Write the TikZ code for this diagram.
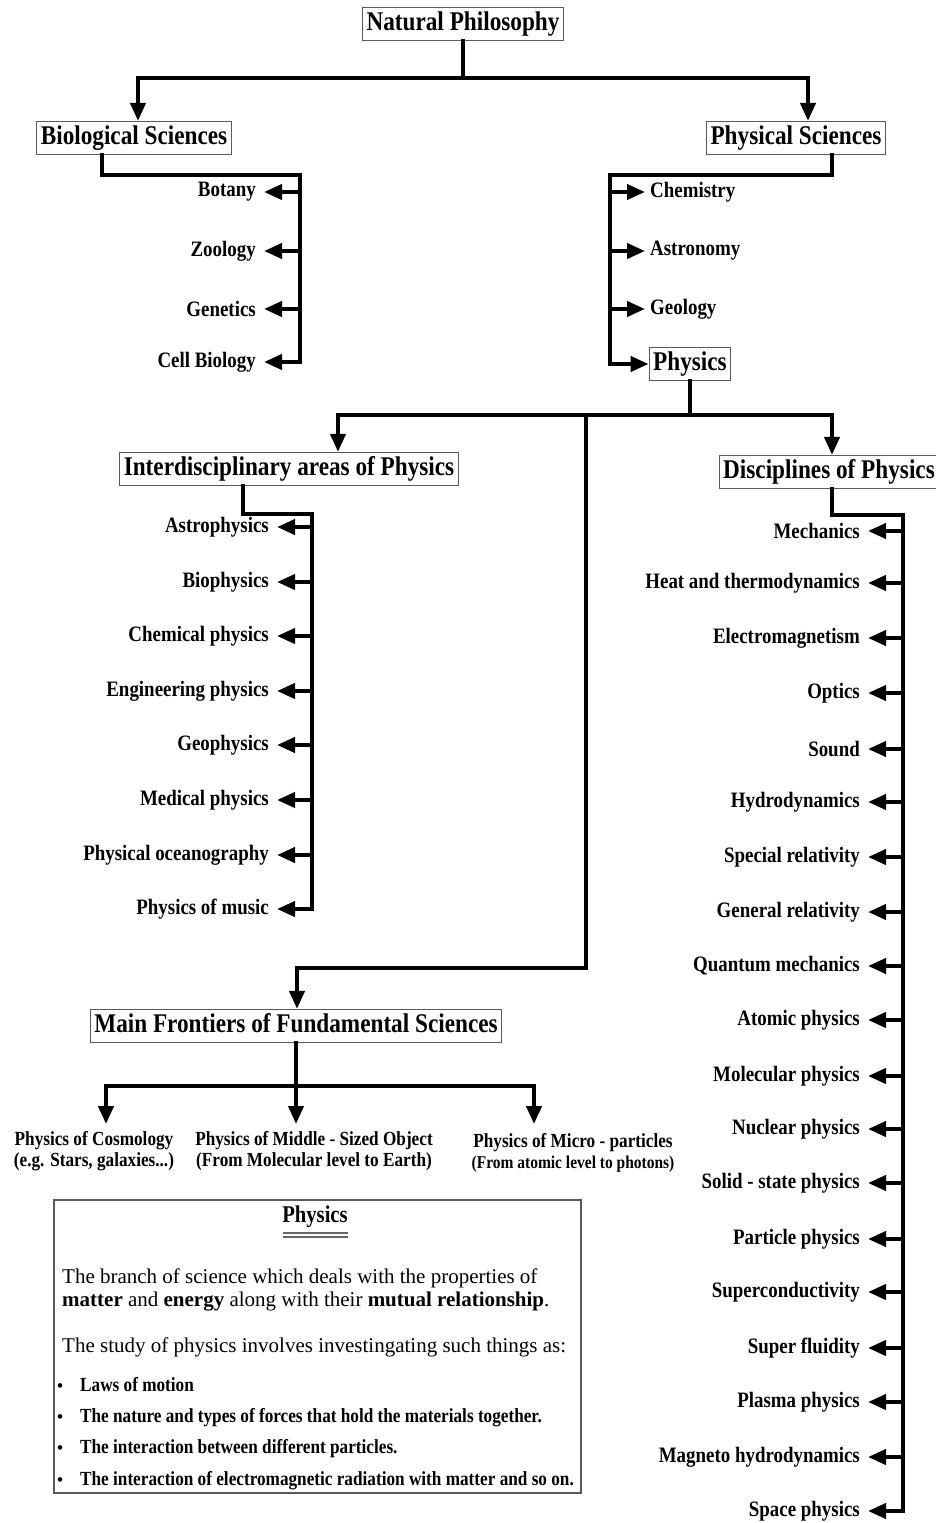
\documentclass[tikz,border=0pt]{standalone}
\usepackage{fontspec}
\setmainfont{Liberation Serif}
\newfontfamily\condfont{Liberation Serif}[FakeStretch=0.86]
\usetikzlibrary{arrows.meta,positioning}

\begin{document}
\begin{tikzpicture}[x=1pt, y=-1pt,
    box/.style={draw=black!65, line width=1.2pt, fill=white, inner xsep=4pt, inner ysep=0pt,
        text height=19pt, text depth=6pt, minimum height=33pt,
        font=\fontsize{27}{29}\condfont\bfseries},
    item/.style={inner xsep=8pt, inner ysep=2pt, font=\fontsize{22}{24}\condfont\bfseries},
    front/.style={inner sep=1pt, align=center, font=\fontsize{20}{21}\condfont\bfseries},
    line/.style={line width=4pt, line cap=rect},
    arrow/.style={line width=4pt, -{Triangle[length=18pt,width=15pt]}}
]
\useasboundingbox (0,0) rectangle (936,1523);

% top level
\node[box] (np) at (463,24) {Natural Philosophy};
\node[box] (bio) at (134,138) {Biological Sciences};
\node[box] (phs) at (796,138) {Physical Sciences};
\coordinate (np-split) at (463,78);

\draw[line] (np.south) -- (np-split);
\draw[arrow] (np-split) -| ([xshift=4]bio.north);
\draw[arrow] (np-split) -| ([xshift=12]phs.north);

% biological sciences
\draw[line] ([xshift=-32]bio.south) |- (300,175) -- (300,362);
\foreach \name/\y [count=\i] in {Botany/192, Zoology/251, Genetics/309, Cell Biology/362} {
    \node[item, anchor=east] (bio\i) at (264,\y) {\name};
    \draw[arrow] (300,\y) -- (bio\i.east);
}

% physical sciences
\draw[line] ([xshift=36]phs.south) |- (610,175) -- (610,364);
\foreach \name/\y [count=\i] in {Chemistry/192, Astronomy/251, Geology/309} {
    \node[item, anchor=west, inner xsep=5pt] (phs\i) at (645,\y) {\name};
    \draw[arrow] (610,\y) -- (phs\i.west);
}
\node[box] (phy) at (690,364) {Physics};
\draw[arrow] (610,364) -- (phy.west);

% physics
\node[box] (inter) at (289,469) {Interdisciplinary areas of Physics};
\node[box] (disc) at (829,472) {Disciplines of Physics};
\node[box] (main) at (296,1026) {Main Frontiers of Fundamental Sciences};
\coordinate (phy-split) at (690,415);
\coordinate (main-turn) at (586,968);

\draw[line] (phy.south) -- (phy-split);
\draw[arrow] (phy-split) -| ([xshift=49]inter.north);
\draw[arrow] (phy-split) -| ([xshift=3]disc.north);
\draw[arrow] (586,415) -- (main-turn) -| ([xshift=1]main.north);

% interdisciplinary areas
\draw[line] ([xshift=-46]inter.south) |- (312,514) -- (312,909);
\foreach \name/\y [count=\i] in {Astrophysics/527, Biophysics/582, Chemical physics/636,
    Engineering physics/691, Geophysics/745, Medical physics/800,
    Physical oceanography/855, Physics of music/909} {
    \node[item, anchor=east] (inter\i) at (277,\y) {\name};
    \draw[arrow] (312,\y) -- (inter\i.east);
}

% disciplines
\draw[line] ([xshift=3]disc.south) |- (903,515) -- (903,1511);
\foreach \name/\y [count=\i] in {Mechanics/531, Heat and thermodynamics/583,
    Electromagnetism/638, Optics/693, Sound/749, Hydrodynamics/802,
    Special relativity/857, General relativity/912, Quantum mechanics/966,
    Atomic physics/1020, Molecular physics/1076, Nuclear physics/1129,
    Solid - state physics/1183, Particle physics/1239, Superconductivity/1292,
    Super fluidity/1348, Plasma physics/1402, Magneto hydrodynamics/1457,
    Space physics/1511} {
    \node[item, anchor=east] (disc\i) at (868,\y) {\name};
    \draw[arrow] (903,\y) -- (disc\i.east);
}

% main frontiers
\coordinate (main-split) at (296,1086);
\node[front] (cosmo) at (94,1151) {Physics of Cosmology\\(e.g. Stars, galaxies...)};
\node[front] (middle) at (314,1151) {Physics of Middle - Sized Object\\(From Molecular level to Earth)};
\node[front] (micro) at (573,1153) {Physics of Micro - particles\\{\fontsize{18}{19}\condfont\bfseries(From atomic level to photons)}};
\draw[line] (main.south) -- (main-split);
\draw[arrow] (main-split) -| (106,1124);
\draw[arrow] (main-split) -- (296,1124);
\draw[arrow] (main-split) -| (534,1124);

% definition of physics
\node[draw=black!65, line width=1.2pt, minimum width=527pt, minimum height=293pt] (desc) at (317.5,1346.5) {};
\node[font=\fontsize{24}{26}\condfont\bfseries] (desc-title) at (315,1217) {Physics};
\draw[black!60, line width=1.2pt] (283,1233) -- (348,1233) (283,1237) -- (348,1237);
\node[anchor=base west, inner sep=0pt, font=\fontsize{21}{24}\selectfont] (desc1) at (62,1283)
    {The branch of science which deals with the properties of};
\node[anchor=base west, inner sep=0pt, font=\fontsize{21}{24}\selectfont] (desc2) at (62,1306)
    {\textbf{matter} and \textbf{energy} along with their \textbf{mutual relationship}.};
\node[anchor=base west, inner sep=0pt, font=\fontsize{21}{24}\selectfont] (desc3) at (62,1352)
    {The study of physics involves investingating such things as:};
\foreach \txt/\y [count=\i] in {Laws of motion/1391,
    The nature and types of forces that hold the materials together./1422,
    The interaction between different particles./1453,
    The interaction of electromagnetic radiation with matter and so on./1485} {
    \node[anchor=base west, inner sep=0pt, font=\fontsize{17}{19}\bfseries] (bullet\i) at (57,\y) {\textbullet};
    \node[anchor=base west, inner sep=0pt, font=\fontsize{20}{22}\condfont\bfseries] (point\i) at (80,\y) {\txt};
}

\end{tikzpicture}
\end{document}
